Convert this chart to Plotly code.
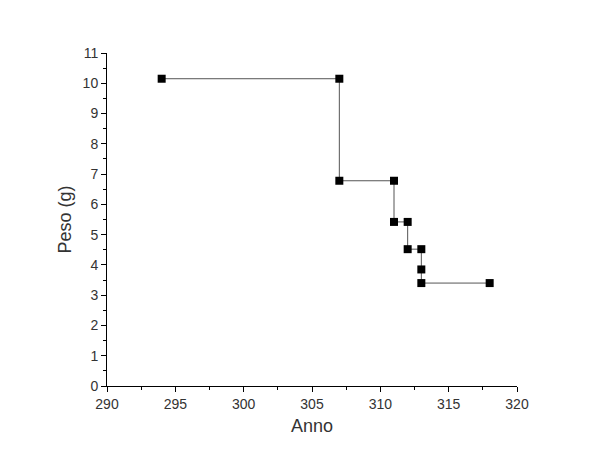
import plotly.graph_objects as go

anno = [294, 307, 307, 311, 311, 312, 312, 313, 313, 313, 318]
peso = [10.15, 10.15, 6.78, 6.78, 5.42, 5.42, 4.52, 4.52, 3.85, 3.40, 3.40]

fig = go.Figure()
fig.add_trace(go.Scatter(
    x=anno, y=peso, mode="lines+markers",
    line=dict(color="#555555", width=1),
    marker=dict(symbol="square", size=8, color="black"),
    showlegend=False,
))

FONT = "Liberation Sans, Arial, sans-serif"
axis_common = dict(
    showgrid=False, zeroline=False, showline=True, linecolor="black", linewidth=1,
    ticks="outside", ticklen=5, tickcolor="black", tickwidth=1,
    tickfont=dict(family=FONT, size=14, color="#333333"),
    mirror=False, automargin=False,
)

# page body has an 8px margin, so the figure is made 8px smaller on each side
fig.update_layout(
    width=592, height=456,
    margin=dict(l=99, r=83, t=45, b=78),
    paper_bgcolor="white", plot_bgcolor="white",
    xaxis=dict(range=[290, 320], dtick=5, tick0=290,
               minor=dict(dtick=2.5, ticks="outside", ticklen=3, tickcolor="black"),
               title=dict(text="Anno", font=dict(family=FONT, size=18, color="#333333"), standoff=8),
               **axis_common),
    yaxis=dict(range=[0, 11], dtick=1, tick0=0,
               minor=dict(dtick=0.5, ticks="outside", ticklen=3, tickcolor="black"),
               title=dict(text="Peso (g)", font=dict(family=FONT, size=18, color="#333333"), standoff=6),
               **axis_common),
)

fig.write_html("out.html")
